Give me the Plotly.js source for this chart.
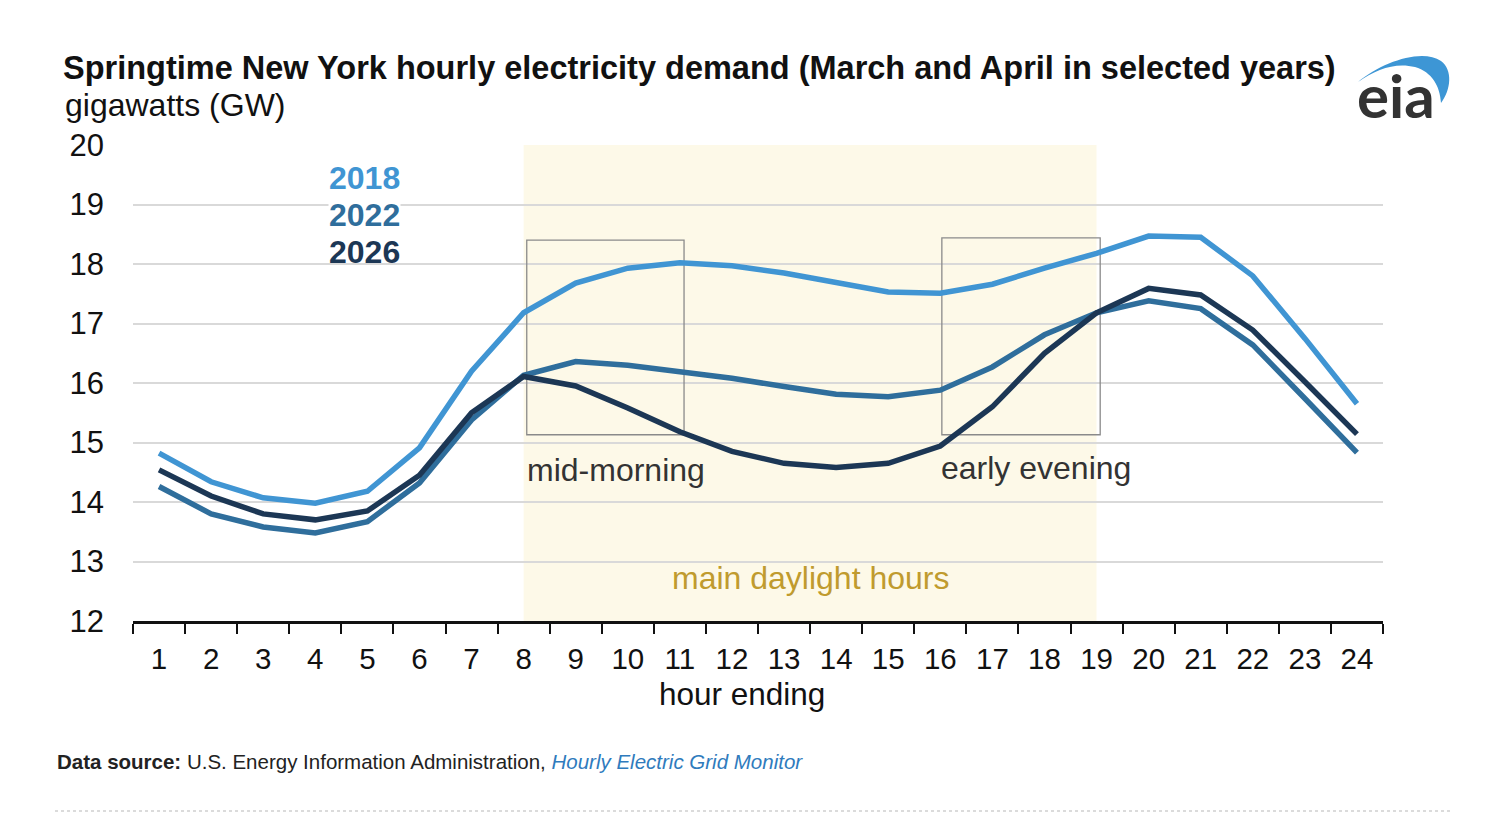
<!DOCTYPE html>
<html>
<head>
<meta charset="utf-8">
<script src="https://cdn.plot.ly/plotly-3.0.1.min.js"></script>
<style>html,body{margin:0;padding:0;background:#fff;}#chart{width:1500px;height:834px;}</style>
</head>
<body>
<div id="chart"></div>
<script>
// ---- data ----
const hours = ['1','2','3','4','5','6','7','8','9','10','11','12','13','14','15','16','17','18','19','20','21','22','23','24'];
const years = ['2018', '2022', '2026'];
const demand2018 = [14.82, 14.34, 14.07, 13.98, 14.18, 14.91, 16.20, 17.18, 17.68, 17.93, 18.02, 17.97, 17.85, 17.70, 17.53, 17.51, 17.66, 17.93, 18.18, 18.47, 18.45, 17.80, 16.75, 15.65];
const demand2022 = [14.26, 13.80, 13.58, 13.48, 13.67, 14.32, 15.38, 16.13, 16.36, 16.30, 16.19, 16.08, 15.94, 15.81, 15.77, 15.88, 16.27, 16.81, 17.18, 17.38, 17.25, 16.64, 15.74, 14.83];
const demand2026 = [14.54, 14.10, 13.80, 13.70, 13.85, 14.45, 15.50, 16.11, 15.95, 15.58, 15.18, 14.85, 14.65, 14.58, 14.65, 14.94, 15.60, 16.50, 17.18, 17.59, 17.48, 16.89, 16.02, 15.14];
const yTicks = [12, 13, 14, 15, 16, 17, 18, 19, 20];
const daylightHours = [8, 19];

// ---- styles ----
const colors = {'2018': '#4095d3', '2022': '#2f6e9c', '2026': '#1c3755'};
const FONT = 'Liberation Sans, Arial, Helvetica, sans-serif';

// pixel -> paper helpers (plot area 133..1383 x, 145..621 y)
const L = 133, R = 1383, T = 145, B = 621;
const px2x = p => (p - L) / (R - L);
const py2y = p => (B - p) / (B - T);
const hIdx = h => h - 1; // hour -> category index

const series = [demand2018, demand2022, demand2026];
const traces = years.map((yr, i) => ({
  type: 'scatter', mode: 'lines', x: hours, y: series[i], name: yr,
  line: {color: colors[yr], width: 5.5}, hoverinfo: 'skip'
}));

// logo arc path in paper coords
function P(x, y) { return px2x(x).toFixed(5) + ',' + py2y(y).toFixed(5); }
const arcPath = 'M' + P(1358, 82) + ' C' + P(1382, 62) + ' ' + P(1422, 48) + ' ' + P(1441, 61) +
  ' C' + P(1453, 70) + ' ' + P(1451, 90) + ' ' + P(1441, 103) +
  ' C' + P(1440, 86) + ' ' + P(1432, 72) + ' ' + P(1415, 67) +
  ' C' + P(1396, 62) + ' ' + P(1376, 69) + ' ' + P(1358, 82) + ' Z';

const shapes = [
  {type: 'rect', xref: 'x', yref: 'paper', x0: hIdx(daylightHours[0]), x1: hIdx(daylightHours[1]), y0: 0, y1: 1,
   fillcolor: '#fdf9e8', line: {width: 0}, layer: 'below'},
  {type: 'rect', xref: 'x', yref: 'y', x0: hIdx(8) + 0.06, x1: hIdx(11) + 0.08, y0: 15.13, y1: 18.40,
   fillcolor: 'rgba(0,0,0,0)', line: {color: '#8a8a8a', width: 1.3}, layer: 'between'},
  {type: 'rect', xref: 'x', yref: 'y', x0: hIdx(16) + 0.03, x1: hIdx(19) + 0.07, y0: 15.13, y1: 18.44,
   fillcolor: 'rgba(0,0,0,0)', line: {color: '#8a8a8a', width: 1.3}, layer: 'between'},
  {type: 'line', xref: 'paper', yref: 'paper', x0: px2x(55), x1: px2x(1453), y0: py2y(811), y1: py2y(811),
   line: {color: '#cfcfcf', width: 1.5, dash: 'dot'}},
  {type: 'path', xref: 'paper', yref: 'paper', path: arcPath, fillcolor: '#3d96d5', line: {width: 0}}
];

const annotations = [
  {xref: 'paper', yref: 'paper', x: px2x(63), y: py2y(105), xanchor: 'left', yanchor: 'middle', showarrow: false,
   text: 'gigawatts (GW)', font: {family: FONT, size: 32, color: '#111'}},
  {xref: 'x', yref: 'y', x: 3.95, y: 19.45, showarrow: false, xanchor: 'center', yanchor: 'middle',
   text: '<b>2018</b>', font: {family: FONT, size: 32, color: colors['2018']}},
  {xref: 'x', yref: 'y', x: 3.95, y: 18.83, showarrow: false, xanchor: 'center', yanchor: 'middle',
   text: '<b>2022</b>', font: {family: FONT, size: 32, color: colors['2022']}, bgcolor: '#ffffff', borderpad: 0},
  {xref: 'x', yref: 'y', x: 3.95, y: 18.21, showarrow: false, xanchor: 'center', yanchor: 'middle',
   text: '<b>2026</b>', font: {family: FONT, size: 32, color: colors['2026']}},
  {xref: 'x', yref: 'y', x: hIdx(8) + 0.02, y: 14.54, showarrow: false, xanchor: 'left', yanchor: 'middle',
   text: 'mid-morning', font: {family: FONT, size: 32, color: '#333'}},
  {xref: 'x', yref: 'y', x: hIdx(16) - 0.03, y: 14.57, showarrow: false, xanchor: 'left', yanchor: 'middle',
   text: 'early evening', font: {family: FONT, size: 32, color: '#333'}},
  {xref: 'x', yref: 'y', x: 12.5, y: 12.72, showarrow: false, xanchor: 'center', yanchor: 'middle',
   text: 'main daylight hours', font: {family: FONT, size: 32, color: '#c09b2e'}},
  {xref: 'paper', yref: 'paper', x: px2x(742), y: py2y(694), showarrow: false, xanchor: 'center', yanchor: 'middle',
   text: 'hour ending', font: {family: FONT, size: 31.5, color: '#111'}},
  {xref: 'paper', yref: 'paper', x: px2x(55), y: py2y(761), showarrow: false, xanchor: 'left', yanchor: 'middle',
   text: '<b>Data source:</b> U.S. Energy Information Administration, <i><span style="color:#2f7bbd">Hourly Electric Grid Monitor</span></i>',
   font: {family: FONT, size: 20.5, color: '#222'}},
  {xref: 'paper', yref: 'paper', x: px2x(1396), y: py2y(95), showarrow: false, xanchor: 'center', yanchor: 'middle',
   text: '<b>eia</b>', font: {family: 'Lato, Open Sans, sans-serif', size: 60, color: '#333'}}
];

const layout = {
  width: 1500, height: 834,
  margin: {l: L, r: 1500 - R, t: T, b: 834 - B, pad: 0},
  paper_bgcolor: '#ffffff', plot_bgcolor: 'rgba(0,0,0,0)',
  showlegend: false,
  title: {text: '<b>Springtime New York hourly electricity demand (March and April in selected years)</b>',
    xref: 'container', yref: 'container', x: 63 / 1500, xanchor: 'left', y: 1 - 68 / 834, yanchor: 'middle',
    font: {family: FONT, size: 32.5, color: '#111'}},
  xaxis: {
    type: 'category', range: [-0.5, 23.5], tickson: 'boundaries', ticks: 'outside', ticklen: 10, tickwidth: 2,
    tickcolor: '#111', showline: true, linecolor: '#111', linewidth: 2.5, showgrid: false, zeroline: false,
    tickfont: {family: FONT, size: 29.5, color: '#111'}, ticklabelstandoff: 10, fixedrange: true
  },
  yaxis: {
    range: [12, 20], tickvals: yTicks, ticktext: yTicks.map(String), showgrid: true, gridcolor: '#d9d9d9', gridwidth: 2,
    zeroline: false, showline: false, ticks: '', tickfont: {family: FONT, size: 31, color: '#111'},
    ticklabelstandoff: 28, fixedrange: true
  },
  shapes: shapes,
  annotations: annotations
};

Plotly.newPlot('chart', traces, layout, {displayModeBar: false, staticPlot: true});
</script>
</body>
</html>
